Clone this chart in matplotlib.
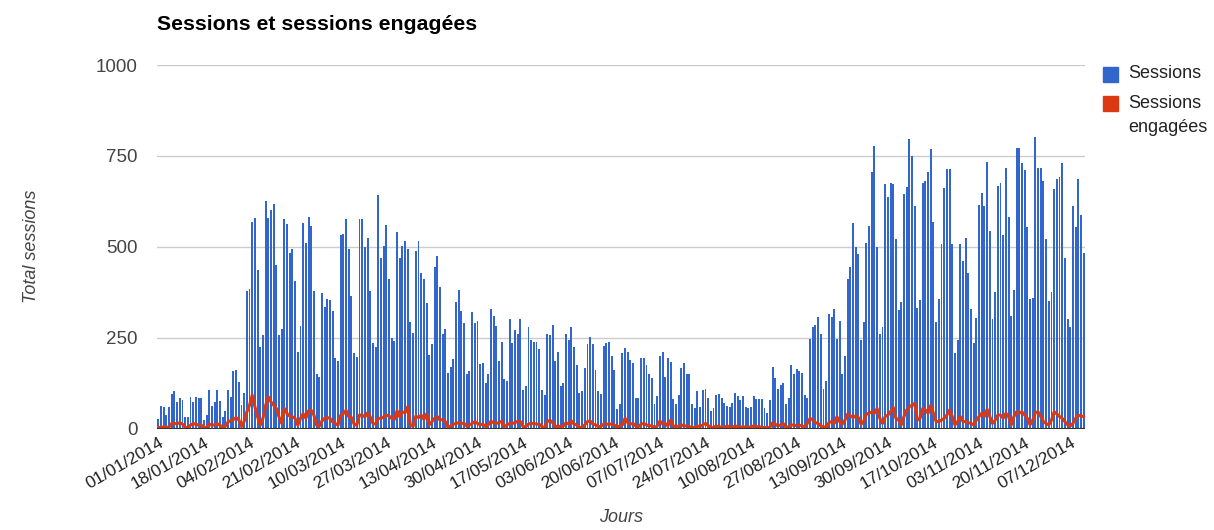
import matplotlib
matplotlib.use('Agg')
import matplotlib.pyplot as plt
import numpy as np
import pandas as pd

plt.rcParams['font.family'] = ['Liberation Sans', 'DejaVu Sans']

# daily values, 01/01/2014 -> 12/12/2014
sessions = [
    26, 62, 58, 37, 58, 95, 102, 72, 84, 79, 33, 33, 87, 72, 87, 84, 84, 23, 37, 105,
    62, 73, 105, 76, 33, 49, 105, 87, 159, 162, 127, 66, 98,
    379, 383, 569, 578, 436, 225, 257, 626, 578, 601, 618, 450, 257, 274, 575, 562,
    484, 493, 407, 210, 282, 566, 511, 583, 557, 378, 150, 142, 372, 333, 356, 353,
    324, 193, 185,
    531, 535, 575, 493, 364, 207, 196, 575, 575, 500, 524, 378, 235, 225, 643, 468,
    502, 560, 410, 249, 241, 540, 468, 502, 517, 493, 292, 263, 489, 517, 428, 410,
    345, 202,
    232, 443, 475, 389, 260, 275, 152, 168, 192, 347, 381, 324, 289, 149, 157, 321,
    289, 296, 178, 181, 124, 149, 328, 310, 282, 186, 238, 135, 132, 301, 235, 271, 260,
    301, 106, 117, 279, 244, 239, 239, 218, 106, 92, 260, 257, 286, 186, 211, 117,
    124, 260, 243, 279, 225, 175, 99, 102, 167, 232, 253, 232, 161, 102,
    95, 227, 234, 239, 200, 161, 53, 67, 207, 221, 210, 189, 179, 85, 85, 193, 193,
    175, 150, 138, 67, 89, 200, 211, 143, 193, 184, 81, 67, 92, 167, 181, 150, 150,
    67, 56, 103,
    58, 106, 110, 85, 49, 56, 91, 96, 85, 69, 63, 59, 70, 99, 89, 78, 89, 59, 56, 59,
    89, 81, 81, 81, 56, 42, 78, 168, 138, 109, 121, 124, 67, 85,
    175, 149, 164, 159, 154, 92, 85, 246, 280, 285, 306, 260, 110, 131, 314, 308,
    328, 246, 296, 149, 200, 411, 443, 565, 500, 480, 244, 294, 510,
    558, 707, 776, 498, 259, 278, 672, 636, 675, 672, 522, 325, 347, 646, 664, 796,
    750, 611, 331, 354, 675, 682, 707, 769, 567, 292, 356, 507, 661, 714, 714, 507,
    207, 243,
    507, 461, 525, 427, 328, 236, 303, 615, 647, 611, 733, 543, 301, 375, 667, 675,
    532, 718, 583, 310, 381, 772, 772, 730, 712, 554, 357, 360, 801, 718, 718, 682,
    522, 350, 375, 659, 686, 693, 730, 469, 301, 278, 613, 554, 686, 586, 484,
]

engaged = [
    2, 4, 4, 3, 4, 14, 14, 13, 16, 12, 3, 3, 9, 14, 11, 10, 9, 3, 3, 12,
    9, 10, 13, 9, 3, 6, 18, 22, 25, 30, 24, 5, 20,
    46, 64, 92, 60, 32, 9, 28, 64, 87, 73, 64, 55, 32, 14, 55, 41,
    34, 32, 28, 9, 28, 41, 28, 49, 50, 37, 9, 6, 21, 28, 30, 28,
    18, 14, 9,
    37, 41, 50, 32, 30, 12, 9, 37, 37, 32, 43, 32, 14, 12, 28, 28,
    32, 37, 34, 28, 25, 49, 32, 46, 43, 60, 9, 6, 34, 30, 37, 25,
    40, 10,
    19, 28, 33, 23, 25, 19, 3, 7, 12, 14, 16, 14, 14, 7, 10, 14,
    19, 14, 10, 12, 5, 10, 20, 16, 14, 16, 20, 5, 10, 14, 14, 16, 20,
    19, 5, 5, 12, 14, 14, 12, 12, 5, 3, 19, 23, 16, 5, 7, 5,
    7, 16, 12, 21, 12, 10, 3, 3, 10, 19, 21, 12, 10, 5,
    6, 12, 12, 12, 12, 10, 3, 7, 10, 28, 16, 12, 14, 7, 5, 12, 14,
    10, 7, 8, 3, 7, 21, 12, 14, 7, 23, 7, 5, 7, 10, 7, 7, 5,
    3, 3, 7,
    5, 10, 14, 8, 3, 3, 7, 5, 3, 3, 7, 5, 3, 7, 5, 3, 5, 3, 3, 5,
    7, 5, 5, 3, 3, 2, 3, 16, 12, 7, 10, 14, 3, 5,
    10, 9, 8, 9, 7, 5, 14, 28, 23, 16, 14, 7, 5, 1, 16, 19,
    14, 32, 19, 12, 23, 40, 35, 30, 35, 30, 12, 20, 40,
    42, 46, 42, 55, 28, 14, 33, 37, 46, 58, 28, 23, 10, 33, 51, 60,
    64, 69, 23, 28, 55, 51, 42, 64, 42, 19, 19, 23, 28, 37, 51, 33,
    10, 19,
    33, 19, 19, 16, 14, 10, 23, 33, 42, 33, 53, 33, 14, 23, 37, 37,
    28, 42, 33, 10, 33, 46, 42, 46, 37, 28, 10, 23, 44, 46, 33, 19,
    14, 10, 23, 46, 40, 33, 28, 19, 10, 7, 14, 28, 37, 34, 33,
]

dates = pd.date_range('2014-01-01', periods=len(sessions), freq='D')
labels = [d.strftime('%d/%m/%Y') for d in dates]
days = np.arange(len(sessions))

fig = plt.figure(figsize=(12.14, 5.30), dpi=100)
ax = fig.add_axes([157/1214, 1 - 428.5/530, (1085 - 157)/1214, (428.5 - 65)/530])

ax.bar(days, sessions, width=0.72, color='#3366cc', label='Sessions', zorder=2)
ax.plot(days, engaged, color='#dc3912', lw=2.2, label='Sessions\nengagées', zorder=3)

ax.set_xlim(-0.5, len(sessions) - 0.5)
ax.set_ylim(0, 1000)
ax.set_yticks([0, 250, 500, 750, 1000])
for v in [250, 500, 750, 1000]:
    ax.axhline(v, color='#cccccc', lw=1, zorder=1)
ax.axhline(0, color='#333333', lw=1.5, zorder=4)

for s in ax.spines.values():
    s.set_visible(False)

ax.tick_params(axis='y', length=0, pad=14, labelsize=13.5, labelcolor='#444444')
ticks = days[::17]
ax.set_xticks(ticks)
ax.set_xticklabels([labels[i] for i in ticks], rotation=30, ha='right',
                   rotation_mode='anchor', fontsize=12.5, color='#222222')
ax.tick_params(axis='x', length=0, pad=5)

ax.set_ylabel('Total sessions', fontsize=13, style='italic', color='#444444', labelpad=40)
ax.set_xlabel('Jours', fontsize=13, style='italic', color='#444444', labelpad=12)

fig.text(157/1214, 1 - 25/530, 'Sessions et sessions engagées', fontsize=15.3,
         fontweight='bold', color='#000000', va='center', ha='left')

# legend
fig.patches.append(plt.Rectangle((1103/1214, 1 - 82/530), 15/1214, 15/530,
                                 transform=fig.transFigure, color='#3366cc'))
fig.patches.append(plt.Rectangle((1103/1214, 1 - 111/530), 15/1214, 15/530,
                                 transform=fig.transFigure, color='#dc3912'))
fig.text(1128/1214, 1 - 74/530, 'Sessions', fontsize=13, color='#222222', va='center')
fig.text(1128/1214, 1 - 104/530, 'Sessions', fontsize=13, color='#222222', va='center')
fig.text(1128/1214, 1 - 127/530, 'engagées', fontsize=13, color='#222222', va='center')

fig.savefig('out.png', dpi=100)
